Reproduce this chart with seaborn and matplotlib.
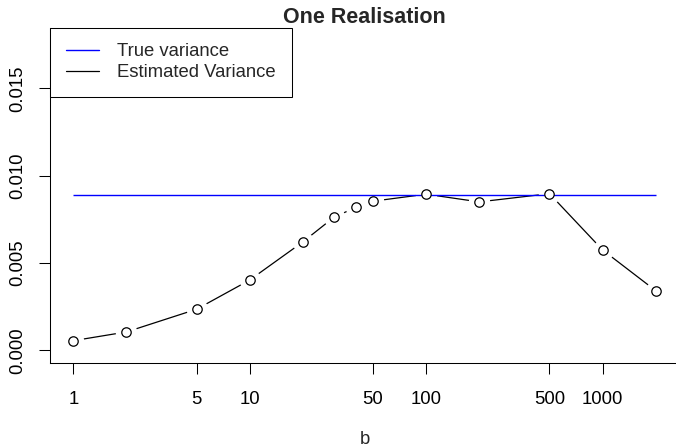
import numpy as np
import pandas as pd
import matplotlib
matplotlib.use("Agg")
import matplotlib.pyplot as plt
from matplotlib.lines import Line2D
from matplotlib.ticker import FixedLocator, FixedFormatter, NullLocator
import seaborn as sns

# data
b_values = [1, 2, 5, 10, 20, 30, 40, 50, 100, 200, 500, 1000, 2000]
est_variance = [0.00056, 0.00106, 0.00236, 0.00403, 0.00621, 0.00762, 0.00819,
                0.00854, 0.00894, 0.00850, 0.00897, 0.00575, 0.00342]
true_variance = 0.00888
x_ticks = [1, 5, 10, 50, 100, 500, 1000]
y_ticks = [0.0, 0.005, 0.010, 0.015]

df = pd.DataFrame({"b": b_values, "est": est_variance})

sns.set_style("ticks")
plt.rcParams["font.family"] = ["Liberation Sans", "DejaVu Sans"]
FS = 13.3

fig = plt.figure(figsize=(6.76, 4.48), dpi=100)
W, H = 676, 448
left, right, top, bottom = 50, 679, 27.6, 362.9
ax = fig.add_axes([left / W, (H - bottom) / H, (right - left) / W, (bottom - top) / H])

# R type="b": segments with gaps around the points
sns.lineplot(data=df, x="b", y="est", color="black", linewidth=0.9, ax=ax)
for ln in ax.lines:
    ln.set_zorder(2)
ax.plot(df["b"], df["est"], linestyle="none", marker="o", markersize=15.5,
        markerfacecolor="white", markeredgecolor="none", markeredgewidth=0, zorder=3)
ax.hlines(true_variance, b_values[0], b_values[-1], color="#0000ff", linewidth=1.0, zorder=3.5)
sns.scatterplot(data=df, x="b", y="est", s=46, color="white", edgecolor="black",
                linewidth=0.9, ax=ax, zorder=4)

ax.set_xscale("log")
span = np.log10(b_values[-1]) - np.log10(b_values[0])
ax.set_xlim(10 ** (-0.04 * span), 10 ** (np.log10(b_values[-1]) + 0.04 * span))
ylo, yhi = 0, 2 * true_variance
ax.set_ylim(ylo - 0.04 * (yhi - ylo), yhi + 0.04 * (yhi - ylo))

ax.xaxis.set_major_locator(FixedLocator(x_ticks))
ax.xaxis.set_major_formatter(FixedFormatter([str(t) for t in x_ticks]))
ax.xaxis.set_minor_locator(NullLocator())
ax.set_yticks(y_ticks)
ax.set_yticklabels([f"{t:.3f}" for t in y_ticks], rotation=90, va="center")

ax.tick_params(axis="both", length=8, width=0.75, direction="out", labelsize=FS,
               colors="black")
ax.tick_params(axis="x", pad=12)
ax.tick_params(axis="y", pad=9)

for side in ["top", "right"]:
    ax.spines[side].set_visible(False)
for side in ["left", "bottom"]:
    ax.spines[side].set_linewidth(0.75)
    ax.spines[side].set_color("black")

ax.set_xlabel("b", fontsize=FS, labelpad=16.5)
ax.set_ylabel("")
ax.set_title("One Realisation", fontsize=15.5, fontweight="bold", pad=2.5)

handles = [Line2D([], [], color="#0000ff", linewidth=1.0),
           Line2D([], [], color="black", linewidth=0.9)]
leg = ax.legend(handles, ["True variance", "Estimated Variance"], loc="upper left",
                bbox_to_anchor=(0, 1), borderaxespad=0, fontsize=FS, frameon=True,
                fancybox=False, edgecolor="black", framealpha=1, handlelength=1.8,
                handletextpad=1.0, labelspacing=0.22, borderpad=0.85)
leg.get_frame().set_linewidth(0.75)
leg.set_zorder(6)

fig.savefig("out.png", dpi=100)
